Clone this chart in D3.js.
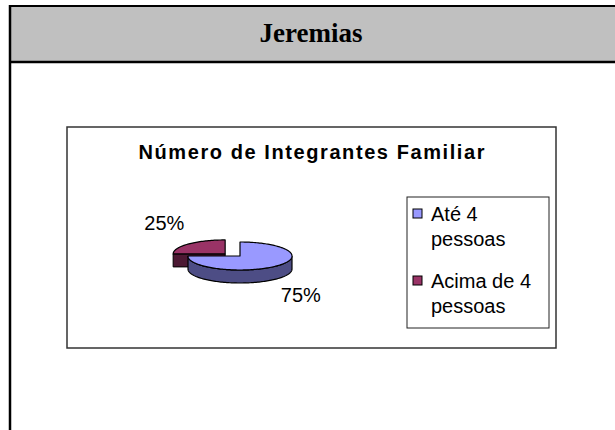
<!DOCTYPE html>
<html>
<head>
<meta charset="utf-8">
<script src="https://cdn.jsdelivr.net/npm/d3@7"></script>
<style>
  html, body { margin: 0; padding: 0; background: #fff; }
  svg { display: block; }
</style>
</head>
<body>
<script>
// Family size breakdown for one household group
const pageTitle = "Jeremias";
const chartTitle = "Número de Integrantes Familiar";
const categories = ["Até 4 pessoas", "Acima de 4 pessoas"];
const legendLines = [["Até 4", "pessoas"], ["Acima de 4", "pessoas"]];
const values = [75, 25];

const W = 615, H = 430;
const topColors = ["#9999ff", "#993366"];
const sideColors = ["#4d4d85", "#4c1933"];

const svg = d3.select("body").append("svg")
  .attr("width", W).attr("height", H);

// Page frame with grey header band
svg.append("rect").attr("x", 10).attr("y", 6).attr("width", W - 10).attr("height", 56)
  .attr("fill", "#c0c0c0");
svg.append("line").attr("x1", 10).attr("x2", W).attr("y1", 6).attr("y2", 6)
  .attr("stroke", "#000").attr("stroke-width", 2);
svg.append("line").attr("x1", 10).attr("x2", W).attr("y1", 62).attr("y2", 62)
  .attr("stroke", "#000").attr("stroke-width", 2.5);
svg.append("line").attr("x1", 10).attr("x2", 10).attr("y1", 5).attr("y2", H)
  .attr("stroke", "#000").attr("stroke-width", 2.5);
svg.append("text").attr("x", 311).attr("y", 42)
  .attr("text-anchor", "middle")
  .attr("font-family", "'Liberation Serif', 'Times New Roman', serif")
  .attr("font-weight", "bold").attr("font-size", 27)
  .text(pageTitle);

// Chart area box
const box = { x: 67, y: 127, w: 489, h: 221 };
svg.append("rect").attr("x", box.x).attr("y", box.y).attr("width", box.w).attr("height", box.h)
  .attr("fill", "#fff").attr("stroke", "#333").attr("stroke-width", 1.5);

svg.append("text").attr("x", box.x + box.w / 2).attr("y", 159)
  .attr("text-anchor", "middle")
  .attr("font-family", "'Liberation Sans', Arial, sans-serif")
  .attr("font-weight", "bold").attr("font-size", 20)
  .attr("textLength", 346).attr("lengthAdjust", "spacing")
  .text(chartTitle);

// 3D pie projected onto an ellipse
const cx = 240, cy = 256, rx = 52, ry = 14, depth = 13;
const pie = d3.pie().sort(null).value(d => d)(values);
const total = d3.sum(values);
const explode = [0, 1];
const explodeDist = 21;

function pt(a, ox, oy, dz) {
  return [ox + rx * Math.sin(a), oy - ry * Math.cos(a) + (dz || 0)];
}
function arcPts(a0, a1, ox, oy, dz) {
  const n = Math.max(2, Math.ceil((a1 - a0) / 0.03));
  return d3.range(n + 1).map(i => pt(a0 + (a1 - a0) * i / n, ox, oy, dz));
}

const slices = pie.map((p, i) => {
  const mid = (p.startAngle + p.endAngle) / 2;
  const ox = cx + explode[i] * explodeDist * Math.sin(mid);
  const oy = cy - explode[i] * explodeDist * Math.cos(mid) * 0.14;
  return { p, i, mid, ox, oy };
});

const line = d3.line();
const pieG = svg.append("g");
// back slices first, front slices last
const order = slices.slice().sort((a, b) => (-Math.cos(a.mid)) - (-Math.cos(b.mid)));
order.forEach(s => {
  const { p, i, ox, oy } = s;
  const g = pieG.append("g");
  const a0 = p.startAngle, a1 = p.endAngle;
  // radial face along the 9 o'clock edge of a back slice turns toward the viewer
  if (a0 >= Math.PI && Math.abs(Math.sin(a0) + 1) < 1e-6) {
    const e = pt(a0, ox, oy);
    g.append("path")
      .attr("d", line([[ox, oy], e, [e[0], e[1] + depth], [ox, oy + depth]]) + "Z")
      .attr("fill", sideColors[i]).attr("stroke", "#000").attr("stroke-width", 1);
  }
  // curved outer wall, front half only
  const f0 = Math.max(a0, Math.PI / 2), f1 = Math.min(a1, 3 * Math.PI / 2);
  if (f1 > f0) {
    const topEdge = arcPts(f0, f1, ox, oy, 0);
    const botEdge = arcPts(f0, f1, ox, oy, depth).reverse();
    g.append("path").attr("d", line(topEdge.concat(botEdge)) + "Z")
      .attr("fill", sideColors[i]).attr("stroke", "#000").attr("stroke-width", 1.2);
  }
  // top face
  const topPts = [[ox, oy]].concat(arcPts(a0, a1, ox, oy, 0));
  g.append("path").attr("d", line(topPts) + "Z")
    .attr("fill", topColors[i]).attr("stroke", "#000").attr("stroke-width", 1.2)
    .attr("stroke-linejoin", "round");
});

// percentage labels
const fmt = d3.format(".0%");
slices.forEach(s => {
  const c = Math.cos(s.mid), sn = Math.sin(s.mid);
  const lx = s.ox + 86 * sn;
  const ly = s.oy - 44 * c + (c < 0 ? depth * 0.6 : 0) + 7;
  svg.append("text").attr("x", lx).attr("y", ly)
    .attr("text-anchor", "middle")
    .attr("font-family", "'Liberation Sans', Arial, sans-serif")
    .attr("font-size", 20)
    .text(fmt(values[s.i] / total));
});

// Legend
const lg = { x: 407, y: 197, w: 142, h: 131 };
svg.append("rect").attr("x", lg.x).attr("y", lg.y).attr("width", lg.w).attr("height", lg.h)
  .attr("fill", "#fff").attr("stroke", "#222").attr("stroke-width", 1);
const itemY = d3.scalePoint().domain(categories).range([221, 288]);
categories.forEach((c, i) => {
  const y = itemY(c);
  svg.append("rect").attr("x", 413).attr("y", y - 12).attr("width", 9).attr("height", 9)
    .attr("fill", topColors[i]).attr("stroke", "#000").attr("stroke-width", 1);
  const t = svg.append("text")
    .attr("font-family", "'Liberation Sans', Arial, sans-serif")
    .attr("font-size", 20);
  legendLines[i].forEach((s, k) => {
    t.append("tspan").attr("x", 431).attr("y", y + k * 25).text(s);
  });
});
</script>
</body>
</html>
